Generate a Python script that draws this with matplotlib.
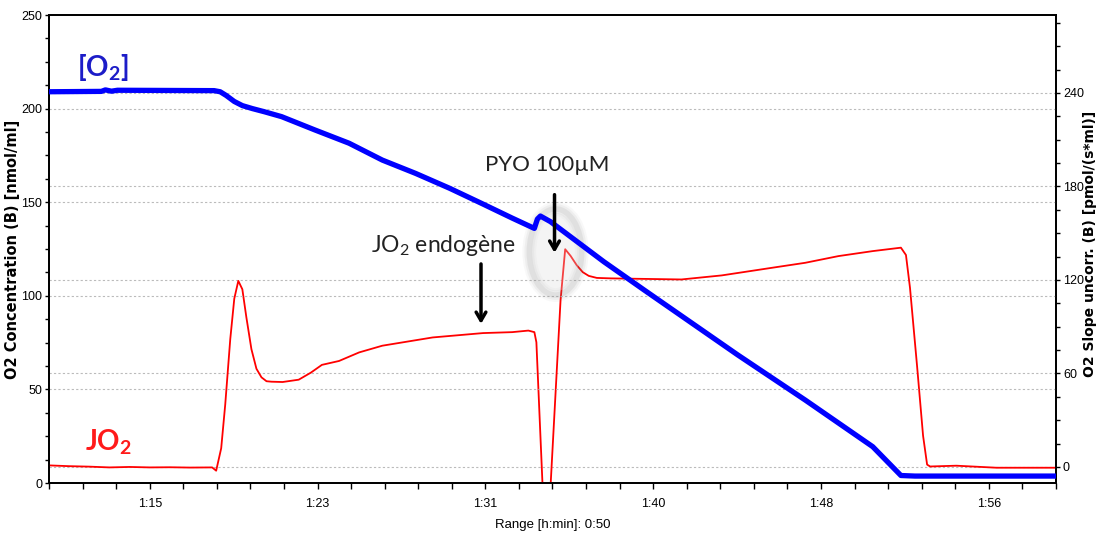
import matplotlib
matplotlib.use('Agg')
import matplotlib.pyplot as plt
import numpy as np
from matplotlib.ticker import MultipleLocator, FuncFormatter
from matplotlib.patches import Ellipse

# [O2] trace, left axis (nmol/ml), time in minutes
o2_time = [70.0, 72.6, 72.8, 73.1, 73.4, 78.2, 78.5, 78.8, 79.2, 79.6, 80.1, 80.7, 81.55, 83.2, 84.9,
           86.55, 88.2, 89.9, 91.55, 93.0, 94.1, 94.25, 94.4, 94.9, 97.55, 99.55, 104.2,
           107.55, 110.9, 112.3, 113.0, 120.0]
o2_conc = [209.0, 209.2, 210.0, 209.3, 209.8, 209.6, 209.0, 207.0, 203.8, 201.6, 200.0, 198.3, 195.7,
           188.6, 181.5, 172.5, 165.4, 157.4, 149.0, 141.5, 136.0, 141.0, 142.6, 139.6, 118.2,
           103.1, 68.4, 44.3, 19.4, 4.0, 3.7, 3.7]

# JO2 trace, right axis (pmol/(s*ml))
jo2_time = [70.0, 71.0, 72.0, 73.0, 74.0, 75.0, 76.0, 77.0, 78.1, 78.3, 78.55, 78.75, 79.0,
            79.2, 79.4, 79.6, 79.8, 80.05, 80.3, 80.55, 80.8, 81.05, 81.6, 82.4, 83.0, 83.55,
            84.4, 85.4, 86.55, 89.05, 91.55, 93.0, 93.8, 94.1, 94.2, 94.55, 94.85, 95.4,
            95.63, 95.9, 96.2, 96.5, 96.8, 97.2, 97.9, 101.4, 103.4, 105.9, 107.55, 109.2,
            110.9, 112.3, 112.55, 112.75, 113.1, 113.4, 113.6, 113.75, 115.05, 117.05, 120.0]
jo2_flux = [1.0, 0.5, 0.2, -0.3, 0.0, -0.3, -0.2, -0.4, -0.3, -2.4, 12.0, 40.0, 82.0,
            108.0, 119.4, 114.0, 96.0, 75.6, 63.0, 57.5, 55.0, 54.7, 54.5, 56.0, 60.5, 65.5,
            68.0, 73.5, 77.8, 83.1, 85.9, 86.5, 87.5, 86.5, 80.0, -25.0, -25.0, 107.0,
            139.7, 135.4, 129.5, 125.0, 122.6, 121.3, 121.0, 120.3, 122.9, 127.8, 131.0, 135.3,
            138.5, 140.7, 136.0, 115.0, 65.0, 20.0, 1.5, 0.3, 0.8, -0.5, -0.5]

x_ticks_major = 25 / 3   # 500 s
x_ticks_minor = 5 / 3    # 100 s


def hmin(m, pos):
    m = m + 1e-6
    return '%d:%02d' % (int(m // 60), int(m % 60))


plt.rcParams['mathtext.fontset'] = 'custom'
plt.rcParams['mathtext.rm'] = 'Lato'
tickfont = 'Liberation Sans'

fig = plt.figure(figsize=(11.02, 5.38), dpi=100)
ax1 = fig.add_axes([49 / 1102, 1 - 483 / 538, (1056 - 49) / 1102, (483 - 15) / 538])
ax2 = ax1.twinx()

ax1.set_xlim(70, 120)
ax1.set_ylim(0, 250)
ax2.set_ylim(-10.3, 290)

# grid lines from both axes
for v in [50, 100, 150, 200]:
    ax1.axhline(v, color='#bbbbbb', lw=0.8, ls=(0, (2, 2)), zorder=0)
for v in [0, 60, 120, 180, 240]:
    ax2.axhline(v, color='#bbbbbb', lw=0.8, ls=(0, (2, 2)), zorder=0)

# grey glow around the injection
for w, a in [(10, 0.05), (7, 0.08), (4, 0.12)]:
    ax1.add_patch(Ellipse((95.15, 123.4), 2.6, 46, angle=0, fill=False,
                          ec='#808080', lw=w, alpha=a, zorder=1))
ax1.add_patch(Ellipse((95.15, 123.4), 2.4, 42, fc='#dcdcdc', ec='none', alpha=0.3, zorder=1))

ax2.plot(jo2_time, jo2_flux, color='#ff0000', lw=1.3, zorder=3)
ax1.set_zorder(ax2.get_zorder() + 1)
ax1.patch.set_visible(False)
ax1.plot(o2_time, o2_conc, color='#0000ff', lw=3.8, solid_capstyle='butt', zorder=4)

# ticks
ax1.xaxis.set_major_locator(MultipleLocator(x_ticks_major))
ax1.xaxis.set_minor_locator(MultipleLocator(x_ticks_minor))
ax1.xaxis.set_major_formatter(FuncFormatter(hmin))
ax1.yaxis.set_major_locator(MultipleLocator(50))
ax1.yaxis.set_minor_locator(MultipleLocator(12.5))
ax2.yaxis.set_major_locator(MultipleLocator(60))
ax2.yaxis.set_minor_locator(MultipleLocator(15))
ax2.set_ylim(-10.3, 290)

for ax in (ax1, ax2):
    ax.tick_params(which='major', length=3, width=1, pad=2)
    ax.tick_params(which='minor', length=3, width=1)
    for s in ax.spines.values():
        s.set_linewidth(1.3)
ax1.tick_params(axis='x', which='both', length=4, pad=7)
for lab in ax1.get_xticklabels() + ax1.get_yticklabels() + ax2.get_yticklabels():
    lab.set_family(tickfont)
    lab.set_fontsize(9)

ax1.set_ylabel('O2 Concentration (B) [nmol/ml]', family='DejaVu Sans', fontsize=10.5,
               fontweight='bold')
ax1.yaxis.set_label_coords(-0.029, 0.5)
ax2.set_ylabel('O2 Slope uncorr. (B) [pmol/(s*ml)]', family='DejaVu Sans', fontsize=10,
               fontweight='bold')
ax2.yaxis.set_label_coords(1.027, 0.51)
ax1.set_xlabel('Range [h:min]: 0:50', family=tickfont, fontsize=9.5, labelpad=6)

# annotations
ax1.text(72.7, 222, r'[O$_\mathregular{2}$]', color='#1c1cc8', fontsize=20, fontweight='bold',
         family='Lato', ha='center', va='center', zorder=6)
ax1.text(72.95, 22, r'JO$_\mathregular{2}$', color='#ff1a1a', fontsize=20, fontweight='bold',
         family='Lato', ha='center', va='center', zorder=6)
ax1.text(89.6, 127, r'JO$_\mathregular{2}$ endogène', color='#222222', fontsize=16.5,
         family='Lato', ha='center', va='center', zorder=6)
ax1.text(94.75, 170, 'PYO 100µM', color='#222222', fontsize=16,
         family='Lato', ha='center', va='center', zorder=6)
ax1.annotate('', xy=(91.45, 83.5), xytext=(91.45, 118.5),
             arrowprops=dict(arrowstyle='->,head_length=0.6,head_width=0.35', lw=2.5, color='black'),
             zorder=6)
ax1.annotate('', xy=(95.1, 121.5), xytext=(95.1, 155.5),
             arrowprops=dict(arrowstyle='->,head_length=0.6,head_width=0.35', lw=2.5, color='black'),
             zorder=6)

fig.savefig('out.png', dpi=100)
